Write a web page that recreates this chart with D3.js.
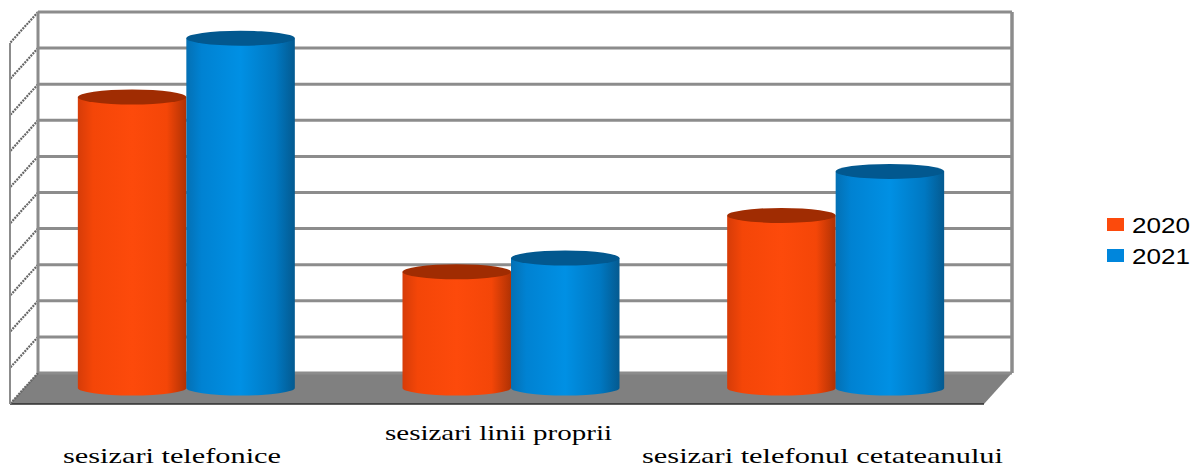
<!DOCTYPE html>
<html><head><meta charset="utf-8">
<script src="https://cdn.jsdelivr.net/npm/d3@7"></script>
<style>html,body{margin:0;padding:0;background:#fff}svg{display:block}</style>
</head><body><svg id="c" width="1192" height="468"></svg>
<script>
const categories = ["sesizari telefonice", "sesizari linii proprii", "sesizari telefonul cetateanului"];
const seriesNames = ["2020", "2021"];
const values2020 = [8.06, 3.22, 4.78];
const values2021 = [9.69, 3.6, 6.0];
const gridTicks = [0,1,2,3,4,5,6,7,8,9,10];
const labelBox = [[63,281,463],[385,612,440],[642,1003,463]];

const svg = d3.select("#c");
const defs = svg.append("defs");
const wallX0 = 38, wallX1 = 1012, wallTop = 12, wallBottom = 373;
const depthX = 28, depthY = 31;
const y = d3.scaleLinear().domain([0,10]).range([wallBottom, wallTop]);
const x0 = d3.scaleBand().domain(categories).range([24, 998]).paddingInner(0).paddingOuter(0);
const barW = 108.5;
const x1 = d3.scaleBand().domain(seriesNames).range([x0.bandwidth()/2 - barW, x0.bandwidth()/2 + barW]);
const barDrop = 15, ry = 7.5;
const colors = {"2020":"#fc4a0c","2021":"#0086dc"};
const tops = {"2020":"#a02c02","2021":"#02588f"};
const shades = {"2020":["#d63c08","#f44608","#fd4a0b","#f44608","#b03204"],"2021":["#0470b4","#0082d2","#0090e4","#0078c2","#045a90"]};
seriesNames.forEach(s=>{
  const g = defs.append("linearGradient").attr("id","g"+s);
  [0,.14,.5,.82,1].forEach((o,i)=>g.append("stop").attr("offset",o).attr("stop-color",shades[s][i]));
});
// floor
svg.append("path").attr("d",`M${wallX0},${wallBottom}L${wallX1},${wallBottom}L${wallX1-depthX},${wallBottom+depthY}L${wallX0-depthX},${wallBottom+depthY}Z`).attr("fill","#808080");
svg.append("line").attr("x1",wallX0-depthX).attr("x2",wallX1-depthX).attr("y1",404).attr("y2",404).attr("stroke","#2d2d2d").attr("stroke-width",1.5);
// gridlines
const grid = svg.append("g").attr("stroke","#8c8c8c").attr("fill","none");
grid.selectAll("line.h").data(gridTicks).join("line").attr("class","h")
  .attr("x1",wallX0).attr("x2",wallX1).attr("y1",d=>y(d)).attr("y2",d=>y(d)).attr("stroke-width",3);
grid.selectAll("line.d").data(gridTicks).join("line").attr("class","d")
  .attr("x1",wallX0).attr("x2",wallX0-depthX).attr("y1",d=>y(d)).attr("y2",d=>y(d)+depthY)
  .attr("stroke","#666").attr("stroke-width",2.2).attr("stroke-dasharray","2 1");
grid.append("line").attr("x1",wallX0).attr("x2",wallX0).attr("y1",wallTop).attr("y2",wallBottom).attr("stroke-width",3);
grid.append("line").attr("x1",wallX1).attr("x2",wallX1).attr("y1",wallTop).attr("y2",wallBottom).attr("stroke-width",3.5);
grid.append("line").attr("x1",wallX0-depthX).attr("x2",wallX0-depthX).attr("y1",wallTop+depthY).attr("y2",wallBottom+depthY).attr("stroke-width",2);
// cylinders
const rows = seriesNames.flatMap((s,si)=>categories.map((c,i)=>({s,c,v:(si?values2021:values2020)[i]})));
const bars = svg.append("g").selectAll("g").data(rows).join("g");
const bx = d=>x0(d.c)+x1(d.s), bw = ()=>x1.bandwidth();
const base = y(0)+barDrop;
bars.append("path").attr("fill",d=>`url(#g${d.s})`).attr("d",d=>{
  const l=bx(d), r=l+bw(), t=y(d.v)+barDrop;
  return `M${l},${t}L${l},${base}A${bw()/2},${ry} 0 0 0 ${r},${base}L${r},${t}Z`;
});
bars.append("ellipse").attr("cx",d=>bx(d)+bw()/2).attr("cy",d=>y(d.v)+barDrop).attr("rx",bw()/2).attr("ry",ry).attr("fill",d=>tops[d.s]);
// category labels
svg.append("g").selectAll("text").data(categories).join("text")
  .attr("x",(d,i)=>labelBox[i][0]).attr("y",(d,i)=>labelBox[i][2])
  .attr("textLength",(d,i)=>labelBox[i][1]-labelBox[i][0]).attr("lengthAdjust","spacingAndGlyphs")
  .attr("font-family","'Liberation Serif'").attr("font-size",22).attr("fill","#000").text(d=>d);
// legend
const lg = svg.append("g").selectAll("g").data(seriesNames).join("g").attr("transform",(d,i)=>`translate(1107,${218+i*31})`);
lg.append("rect").attr("width",17).attr("height",13).attr("fill",d=>colors[d]);
lg.append("text").attr("x",25).attr("y",15).attr("font-family","'Liberation Sans'").attr("font-size",22)
  .attr("textLength",58).attr("lengthAdjust","spacingAndGlyphs").text(d=>d);
</script></body></html>
